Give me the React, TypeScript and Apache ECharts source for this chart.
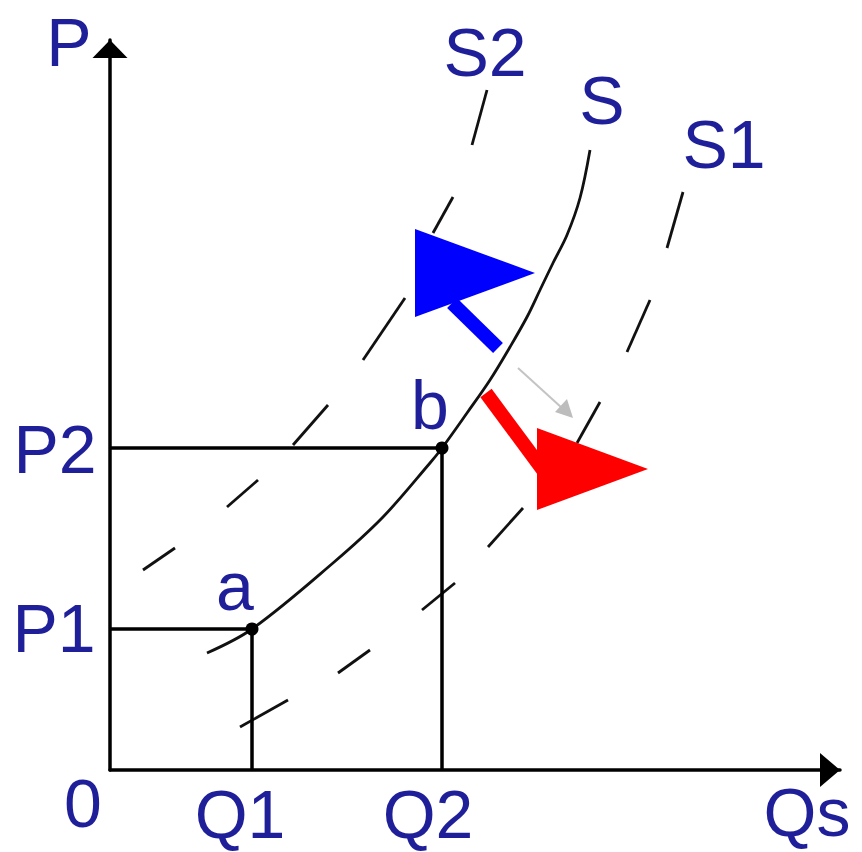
import React, { useEffect, useRef } from "react";
import * as echarts from "echarts";

// Supply curve S (solid) — data units: quantity (x), price (y)
const curveS: number[][] = [
  [97, 117], [142, 141], [223, 207], [273, 253], [320, 307], [332, 322],
  [357, 357], [380, 390], [400, 423], [417, 453], [430, 480], [443, 507],
  [457, 535], [470, 572], [480, 620],
];
// Dashed curve S2 (shift left), each dash as a segment
const dashesS2: number[][][] = [
  [[33, 200], [65, 222]],
  [[117, 263], [148, 290]],
  [[183, 325], [218, 365]],
  [[253, 410], [295, 472]],
  [[323, 537], [343, 573]],
  [[362, 625], [377, 680]],
];
// Dashed curve S1 (shift right)
const dashesS1: number[][][] = [
  [[130, 43], [178, 70]],
  [[228, 97], [260, 120]],
  [[312, 160], [345, 187]],
  [[378, 223], [413, 262]],
  [[467, 327], [490, 368]],
  [[517, 418], [540, 470]],
  [[557, 522], [573, 578]],
];
// Equilibrium points a and b
const pointA = [142, 141];
const pointB = [332, 322];
// Guide lines
const guideA: number[][] = [[0, 141], [142, 141], [142, 0]];
const guideB: number[][] = [[0, 322], [332, 322], [332, 0]];
// Arrows: shafts and heads
const blueShaft: number[][] = [[388, 422], [342, 467]];
const blueHead: number[] = [305, 541, 425, 497, 305, 453];
const redShaft: number[][] = [[376, 377], [433, 300]];
const redHead: number[] = [427, 342, 538, 301, 427, 260];
const grayShaft: number[][] = [[408, 402], [452, 362]];
const grayHead: number[] = [463, 352, 445, 358, 457, 371];
// Text labels
const labelNames: string[] = ["P", "0", "Q1", "Q2", "Qs", "P1", "P2", "a", "b", "S2", "S", "S1"];
const labelX: number[] = [-41, -27, 130, 318, 697, -56, -55, 125, 320, 375, 492, 614];
const labelY: number[] = [728, -33, -44, -44, -42, 142, 321, 184, 365, 718, 670, 626];

const TEXT_COLOR = "#1f1f9a";

export default function App() {
  const ref = useRef<HTMLDivElement>(null);
  useEffect(() => {
    if (!ref.current) return;
    const chart = echarts.init(ref.current, null, { renderer: "svg" });
    const heads = [
      [...blueHead, 0],
      [...redHead, 1],
      [...grayHead, 2],
    ];
    const headColors = ["#0000ff", "#ff0000", "#bdbdbd"];
    const axisCommon = {
      type: "value" as const,
      min: 0,
      max: 730,
      splitLine: { show: false },
      axisTick: { show: false },
      axisLabel: { show: false },
    };
    chart.setOption({
      animation: false,
      backgroundColor: "#ffffff",
      grid: { left: 110, top: 40, width: 730, height: 730 },
      xAxis: {
        ...axisCommon,
        axisLine: {
          show: true,
          onZero: false,
          lineStyle: { color: "#000", width: 3.5 },
          symbol: ["none", "triangle"],
          symbolSize: [34, 20],
          symbolOffset: [0, -10],
        },
      },
      yAxis: {
        ...axisCommon,
        axisLine: {
          show: true,
          onZero: false,
          lineStyle: { color: "#000", width: 3.5 },
          symbol: ["none", "triangle"],
          symbolSize: [35, 18],
          symbolOffset: [0, -9],
        },
      },
      series: [
        {
          type: "line",
          name: "guideA",
          data: guideA,
          symbol: "none",
          lineStyle: { color: "#000", width: 3.5 },
          z: 3,
        },
        {
          type: "line",
          name: "guideB",
          data: guideB,
          symbol: "none",
          lineStyle: { color: "#000", width: 3.5 },
          z: 3,
        },
        {
          type: "line",
          name: "S",
          data: curveS,
          smooth: 0.35,
          symbol: "none",
          lineStyle: { color: "#111", width: 2.8 },
          z: 3,
        },
        {
          type: "lines",
          name: "S2",
          coordinateSystem: "cartesian2d",
          data: dashesS2.map((c) => ({ coords: c })),
          lineStyle: { color: "#111", width: 2.8, opacity: 1 },
          z: 3,
        },
        {
          type: "lines",
          name: "S1",
          coordinateSystem: "cartesian2d",
          data: dashesS1.map((c) => ({ coords: c })),
          lineStyle: { color: "#111", width: 2.8, opacity: 1 },
          z: 3,
        },
        {
          type: "scatter",
          name: "points",
          data: [pointA, pointB],
          symbol: "circle",
          symbolSize: 13,
          itemStyle: { color: "#000", opacity: 1 },
          z: 4,
        },
        {
          type: "line",
          name: "grayShaft",
          data: grayShaft,
          symbol: "none",
          lineStyle: { color: "#c4c4c4", width: 2 },
          z: 4,
        },
        {
          type: "line",
          name: "blueShaft",
          data: blueShaft,
          symbol: "none",
          lineStyle: { color: "#0000ff", width: 14, cap: "butt" },
          z: 5,
        },
        {
          type: "line",
          name: "redShaft",
          data: redShaft,
          symbol: "none",
          lineStyle: { color: "#ff0000", width: 14, cap: "butt" },
          z: 5,
        },
        {
          type: "custom",
          name: "heads",
          data: heads,
          z: 6,
          clip: false,
          renderItem: (params: any, api: any) => {
            const p1 = api.coord([api.value(0), api.value(1)]);
            const p2 = api.coord([api.value(2), api.value(3)]);
            const p3 = api.coord([api.value(4), api.value(5)]);
            return {
              type: "polygon",
              shape: { points: [p1, p2, p3] },
              style: { fill: headColors[api.value(6)] },
            };
          },
        },
        {
          type: "scatter",
          name: "labels",
          clip: false,
          symbolSize: 0,
          itemStyle: { opacity: 1 },
          data: labelNames.map((n, i) => [labelX[i], labelY[i], n]),
          label: {
            show: true,
            position: "inside",
            formatter: (p: any) => p.value[2],
            color: TEXT_COLOR,
            opacity: 1,
            fontFamily: "Liberation Sans, Arial, sans-serif",
            fontSize: 68,
            lineHeight: 54,
            fontWeight: "normal",
          },
          z: 7,
        },
      ],
    });
    return () => chart.dispose();
  }, []);
  return (
    <div
      ref={ref}
      style={{ position: "fixed", left: 0, top: 0, width: 862, height: 852, background: "#fff" }}
    />
  );
}
